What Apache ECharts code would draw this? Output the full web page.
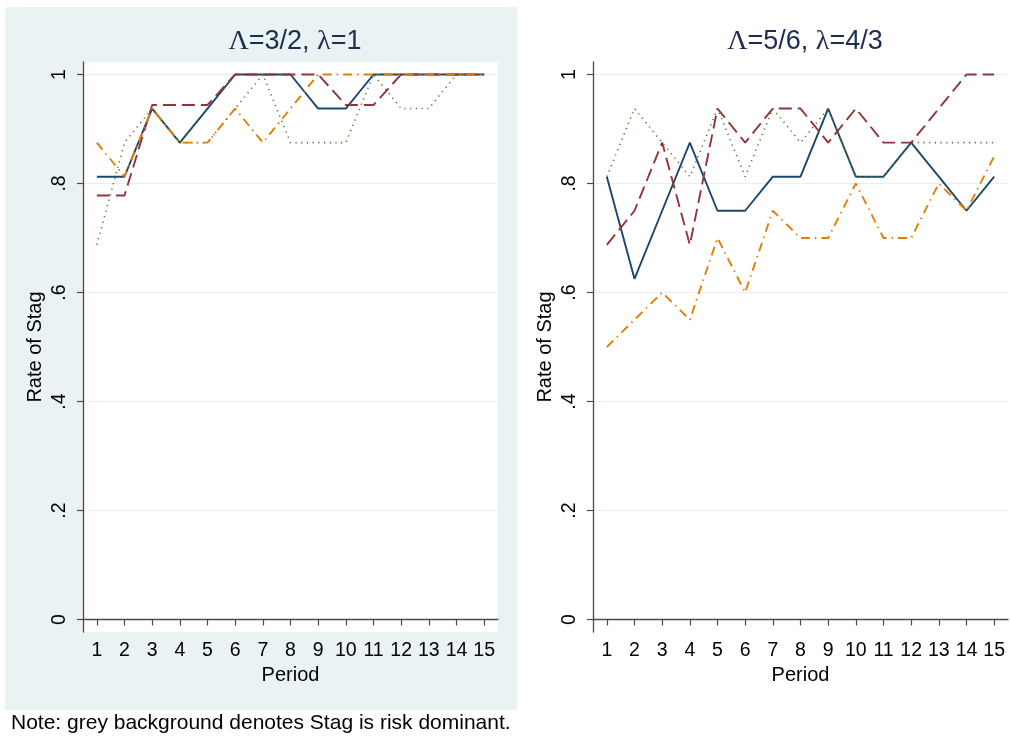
<!DOCTYPE html>
<html>
<head>
<meta charset="utf-8">
<script src="https://cdn.jsdelivr.net/npm/echarts@6/dist/echarts.min.js"></script>
<style>
html,body{margin:0;padding:0;background:#fff;}
#chart{width:1010px;height:740px;}
</style>
</head>
<body>
<div id="chart"></div>
<script>
const periods = ['1','2','3','4','5','6','7','8','9','10','11','12','13','14','15'];
const yTicks = [0, 0.2, 0.4, 0.6, 0.8, 1];
const titles = ['{g|\u039B}=3/2, {g|\u03BB}=1', '{g|\u039B}=5/6, {g|\u03BB}=4/3'];
const noteText = 'Note: grey background denotes Stag is risk dominant.';

// Left panel (Λ=3/2, λ=1)
const leftNavy   = [0.8125,0.8125,0.9375,0.875,0.9375,1,1,1,0.9375,0.9375,1,1,1,1,1];
const leftMaroon = [0.778,0.778,0.944,0.944,0.944,1,1,1,1,0.944,0.944,1,1,1,1];
const leftGreen  = [0.6875,0.875,0.9375,0.875,0.875,0.9375,1,0.875,0.875,0.875,1,0.9375,0.9375,1,1];
const leftOrange = [0.875,0.8125,0.9375,0.875,0.875,0.9375,0.875,0.9375,1,1,1,1,1,1,1];

// Right panel (Λ=5/6, λ=4/3)
const rightNavy   = [0.8125,0.625,0.75,0.875,0.75,0.75,0.8125,0.8125,0.9375,0.8125,0.8125,0.875,0.8125,0.75,0.8125];
const rightMaroon = [0.6875,0.75,0.875,0.6875,0.9375,0.875,0.9375,0.9375,0.875,0.9375,0.875,0.875,0.9375,1,1];
const rightGreen  = [0.8125,0.9375,0.875,0.8125,0.9375,0.8125,0.9375,0.875,0.9375,0.8125,0.8125,0.875,0.875,0.875,0.875];
const rightOrange = [0.5,0.55,0.6,0.55,0.7,0.6,0.75,0.7,0.7,0.8,0.7,0.7,0.8,0.75,0.85];

const FONT = 'Liberation Sans, Arial, Helvetica, sans-serif';
const SERIF = 'Liberation Serif, Times New Roman, serif';
const AXIS_COLOR = '#4a4a4a';
const GRID_COLOR = '#e8eff1';
const TITLE_COLOR = '#1c2d52';

const styles = [
  {color:'#1a476f', type:'solid', width:1.9},
  {color:'#90353b', type:[13,6], width:1.9},
  {color:'#55752f', type:[1.2,4.5], width:1.6},
  {color:'#e37e00', type:[9,5,1.5,5], width:1.9}
];

const chart = echarts.init(document.getElementById('chart'), null, {renderer:'canvas'});

function xAxisFor(idx){
  return {
    type:'category', gridIndex:idx, data:periods, boundaryGap:true,
    axisLine:{show:true, lineStyle:{color:AXIS_COLOR, width:1.3}},
    axisTick:{show:true, alignWithLabel:true, length:6, lineStyle:{color:AXIS_COLOR, width:1.2}},
    axisLabel:{color:'#000', fontSize:19.5, fontFamily:FONT, margin:9, interval:0},
    splitLine:{show:false},
    name:'Period', nameLocation:'middle', nameGap:30,
    nameTextStyle:{color:'#000', fontSize:20, fontFamily:FONT}
  };
}
function yAxisFor(idx){
  return {
    type:'value', gridIndex:idx, min:-0.0229, max:1.0229,
    axisLine:{show:true, onZero:false, lineStyle:{color:AXIS_COLOR, width:1.3}},
    axisTick:{show:true, length:6, customValues:yTicks, lineStyle:{color:AXIS_COLOR, width:1.2}},
    axisLabel:{color:'#000', fontSize:19.5, fontFamily:FONT, margin:13, rotate:90,
      customValues:yTicks,
      formatter:function(v){
        if (Math.abs(v) < 1e-9) return '0';
        if (Math.abs(v-1) < 1e-9) return '1';
        return '.' + Math.round(v*10);
      }},
    splitLine:{show:true, lineStyle:{color:GRID_COLOR, width:1.2}},
    name:'Rate of Stag', nameLocation:'middle', nameGap:38, nameRotate:90,
    nameTextStyle:{color:'#000', fontSize:20, fontFamily:FONT}
  };
}
function seriesFor(idx, arrays){
  return arrays.map(function(arr, i){
    return {
      type:'line', xAxisIndex:idx, yAxisIndex:idx, data:arr,
      symbol:'none', smooth:false, animation:false,
      lineStyle:{color:styles[i].color, type:styles[i].type, width:styles[i].width},
      z: 2 + i
    };
  });
}
function titleFor(text, cx){
  return {text:text, left:cx, top:23, textAlign:'center',
    textStyle:{color:TITLE_COLOR, fontSize:27, fontWeight:'normal', fontFamily:FONT,
      rich:{g:{fontFamily:SERIF, fontSize:28, color:TITLE_COLOR}}}};
}

const option = {
  animation:false,
  backgroundColor:'#ffffff',
  textStyle:{fontFamily:FONT},
  graphic:[
    {type:'rect', z:-10, shape:{x:5, y:7, width:512, height:703}, style:{fill:'#eaf2f3'}},
    {type:'text', z:10, left:11, top:713, style:{text:noteText, fill:'#000', fontSize:21, fontFamily:FONT}}
  ],
  title:[titleFor(titles[0], 290), titleFor(titles[1], 800)],
  grid:[
    {left:83, top:62, width:415, height:570, show:true, backgroundColor:'#ffffff', borderWidth:0, containLabel:false},
    {left:593, top:62, width:415, height:570, show:true, backgroundColor:'#ffffff', borderWidth:0, containLabel:false}
  ],
  xAxis:[xAxisFor(0), xAxisFor(1)],
  yAxis:[yAxisFor(0), yAxisFor(1)],
  series: seriesFor(0, [leftNavy, leftMaroon, leftGreen, leftOrange])
    .concat(seriesFor(1, [rightNavy, rightMaroon, rightGreen, rightOrange]))
};
chart.setOption(option);
</script>
</body>
</html>
